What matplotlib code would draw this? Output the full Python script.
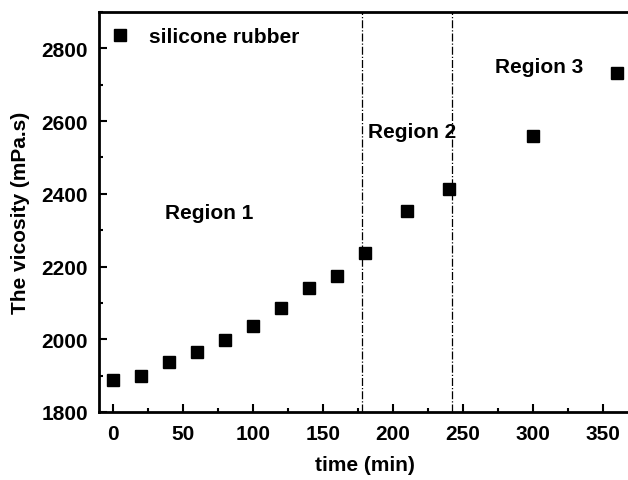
import matplotlib
matplotlib.use('Agg')
import matplotlib.pyplot as plt
from matplotlib.ticker import MultipleLocator

plt.rcParams['font.family'] = ['Liberation Sans', 'DejaVu Sans']
plt.rcParams['font.weight'] = 'bold'

# data
time_min = [0, 20, 40, 60, 80, 100, 120, 140, 160, 180, 210, 240, 300, 360]
viscosity = [1888, 1899, 1937, 1965, 1997, 2036, 2085, 2140, 2175, 2238, 2353, 2414, 2559, 2732]
region_bounds = [178, 242]
region_labels = ['Region 1', 'Region 2', 'Region 3']
region_pos = [(37, 2348), (182, 2570), (273, 2750)]

fig = plt.figure(figsize=(6.28, 4.81), dpi=100)
ax = fig.add_axes([0.1576, 0.1414, 0.847, 0.8316])

ax.plot(time_min, viscosity, 's', color='black', markersize=8, label='silicone rubber')

for b in region_bounds:
    ax.axvline(b, color='black', linestyle='-.', linewidth=0.9)

for lab, (tx, ty) in zip(region_labels, region_pos):
    ax.text(tx, ty, lab, fontsize=15, fontweight='bold', va='center', ha='left')

ax.set_xlim(-10, 370)
ax.set_ylim(1800, 2900)
ax.xaxis.set_major_locator(MultipleLocator(50))
ax.xaxis.set_minor_locator(MultipleLocator(25))
ax.yaxis.set_major_locator(MultipleLocator(200))
ax.yaxis.set_minor_locator(MultipleLocator(100))
ax.tick_params(which='both', direction='in', width=1.5, labelsize=15)
ax.tick_params(which='major', length=6)
ax.tick_params(which='minor', length=3)
ax.tick_params(axis='x', pad=9)
ax.tick_params(axis='y', pad=8)
ax.tick_params(top=False, right=False)
for s in ax.spines.values():
    s.set_linewidth(2)

ax.set_xlabel('time (min)', fontsize=15, fontweight='bold', labelpad=8)
ax.set_ylabel('The vicosity (mPa.s)', fontsize=15, fontweight='bold', labelpad=8)

ax.legend(loc='upper left', bbox_to_anchor=(0, 0.993), frameon=False, fontsize=15,
          handlelength=0.8, handletextpad=1.0, borderaxespad=0.2, markerscale=1.0)

fig.savefig('out.png', dpi=100)
